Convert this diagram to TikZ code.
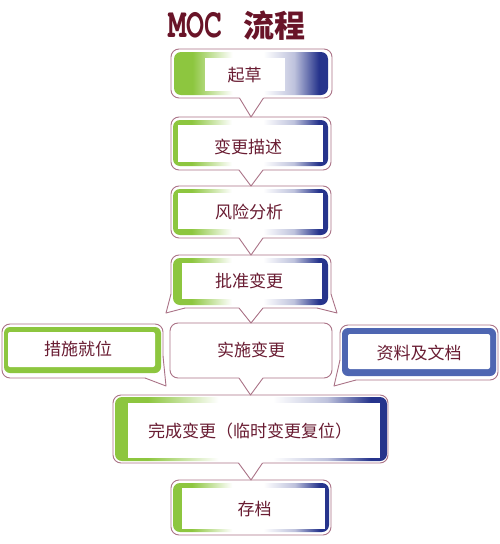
\documentclass[tikz,border=0pt]{standalone}
\usepackage{fontspec}
\usepackage{graphicx}
\newfontfamily\cjk{Noto Sans CJK SC}
\newfontfamily\cursorfont{TeX Gyre Cursor}
\usetikzlibrary{calc}
\definecolor{mgreen}{RGB}{141,198,63}
\definecolor{mblue}{RGB}{38,52,140}
\definecolor{rblue}{RGB}{78,102,178}
\definecolor{txtc}{RGB}{105,28,50}
\definecolor{titlec}{RGB}{105,20,40}
\definecolor{outc}{RGB}{170,115,135}
\definecolor{shadc}{RGB}{200,150,165}
\definecolor{shadd}{RGB}{160,95,115}
\pgfdeclarehorizontalshading{gwb}{100bp}{color(0bp)=(mgreen); color(25bp)=(mgreen); color(31bp)=(mgreen); color(44bp)=(white); color(54bp)=(white); color(64bp)=(mblue!30!white); color(72bp)=(mblue); color(100bp)=(mblue)}
\pgfdeclarelayer{shadowlayer}
\pgfsetlayers{shadowlayer,main}
\newcommand\mocshad[1]{%
  \begin{pgfonlayer}{shadowlayer}
    \fill[shadc, opacity=0.45, rounded corners=8pt] ([shift={(4.5pt,-4.5pt)}]#1.north west) rectangle ([shift={(4.5pt,-4.5pt)}]#1.south east);
    \fill[shadd, opacity=0.55, rounded corners=8pt] ([shift={(2pt,-2pt)}]#1.north west) rectangle ([shift={(2pt,-2pt)}]#1.south east);
  \end{pgfonlayer}}
\newcommand\mocptr[2]{%
  \begin{pgfonlayer}{shadowlayer}
    \fill[shadc, opacity=0.45] ([shift={(-7.5pt,-4.5pt)}]#1.south) -- ([shift={(4.5pt,-4.5pt)}]#2.north) -- ([shift={(16.5pt,-4.5pt)}]#1.south) -- cycle;
    \fill[shadd, opacity=0.55] ([shift={(-10pt,-2pt)}]#1.south) -- ([shift={(2pt,-2pt)}]#2.north) -- ([shift={(14pt,-2pt)}]#1.south) -- cycle;
  \end{pgfonlayer}
  \fill[white] ([shift={(-12pt,2pt)}]#1.south) -- ([xshift=-12pt]#1.south) -- (#2.north) -- ([xshift=12pt]#1.south) -- ([shift={(12pt,2pt)}]#1.south) -- cycle;
  \draw[outline] ([xshift=-12pt]#1.south) -- (#2.north) -- ([xshift=12pt]#1.south);}
% tail: #1 start point, #2 tip, #3 end point, #4 inner point
\newcommand\moctail[4]{%
  \begin{pgfonlayer}{shadowlayer}
    \fill[shadd, opacity=0.55] ([shift={(2pt,-2pt)}]#1) -- ([shift={(2pt,-2pt)}]#2) -- ([shift={(2pt,-2pt)}]#3) -- ([shift={(2pt,-2pt)}]#4) -- cycle;
    \fill[shadc, opacity=0.45] ([shift={(4pt,-4pt)}]#1) -- ([shift={(4pt,-4pt)}]#2) -- ([shift={(4pt,-4pt)}]#3) -- ([shift={(4pt,-4pt)}]#4) -- cycle;
  \end{pgfonlayer}
  \fill[white] (#1) -- (#2) -- (#3) -- (#4) -- cycle;
  \draw[outline] (#1) -- (#2) -- (#3);}
\begin{document}
\begin{tikzpicture}[x=1pt,y=-1pt,
  outline/.style={draw=outc, line width=0.9pt, line join=round},
  outer/.style={outline, fill=white, rounded corners=8pt, inner sep=0pt, outer sep=0pt},
  grad/.style={shade, shading=gwb, rounded corners=7pt, inner sep=0pt, outer sep=0pt},
  wbox/.style={fill=white, inner sep=0pt, outer sep=0pt},
  lbl/.style={font=\cjk\fontsize{17pt}{20pt}\selectfont, text=txtc, inner sep=0pt},
]
\useasboundingbox (0,0) rectangle (500,544);
\fill[white] (0,0) rectangle (500,544);

% title
\node[inner sep=0pt, text=titlec] (title1) at (195.5,25) {\scalebox{1}[1.4]{\cursorfont\bfseries\fontsize{30pt}{30pt}\selectfont MOC}};
\node[inner sep=0pt, text=titlec, font=\cjk\bfseries\fontsize{31pt}{34pt}\selectfont] (title2) at (274.5,26) {流程};

% outer bubbles
\node[outer, minimum width=161pt, minimum height=49pt] (o1) at (251.5,73.5) {};
\node[outer, minimum width=160pt, minimum height=53pt] (o2) at (251,143.5) {};
\node[outer, minimum width=160pt, minimum height=52pt] (o3) at (251,212) {};
\node[outer, minimum width=160pt, minimum height=53pt] (o4) at (251,281.5) {};
\node[outer, minimum width=162pt, minimum height=55pt] (o5) at (251,350.5) {};
\node[outer, minimum width=275pt, minimum height=68pt] (o6) at (250.5,429) {};
\node[outer, minimum width=160pt, minimum height=55pt] (o7) at (251,507.5) {};
\node[outer, minimum width=161pt, minimum height=54pt] (oL) at (82.5,351) {};
\node[outer, minimum width=158pt, minimum height=55pt] (oR) at (419,352.5) {};
\foreach \n in {o1,o2,o3,o4,o5,o6,o7,oL,oR} {\mocshad{\n}}

% pointers
\mocptr{o1}{o2}
\mocptr{o2}{o3}
\mocptr{o3}{o4}
\mocptr{o4}{o5}
\mocptr{o5}{o6}
\mocptr{o6}{o7}

% tails
\coordinate (tipL) at (166,386);
\coordinate (tipR) at (334,386);
\coordinate (tip4L) at (166,313);
\coordinate (tip4R) at (337,313);
\moctail{$(oL.south east)+(0,-22)$}{tipL}{$(oL.south east)+(-18,0)$}{$(oL.south east)+(-12,-12)$}
\moctail{$(oR.south west)+(0,-20)$}{tipR}{$(oR.south west)+(16,0)$}{$(oR.south west)+(12,-12)$}
\moctail{$(o4.south west)+(0,-14)$}{tip4L}{$(o4.south west)+(14,0)$}{$(o4.south west)+(10,-10)$}
\moctail{$(o4.south east)+(0,-14)$}{tip4R}{$(o4.south east)+(-14,0)$}{$(o4.south east)+(-10,-10)$}

% gradient boxes
\node[grad, minimum width=154pt, minimum height=43pt] (g1) at (251,73.5) {};
\node[grad, minimum width=155pt, minimum height=46pt] (g2) at (250.5,143) {};
\node[grad, minimum width=155pt, minimum height=46pt] (g3) at (250.5,212) {};
\node[grad, minimum width=155pt, minimum height=47pt] (g4) at (250.5,281.5) {};
\node[grad, minimum width=272pt, minimum height=64pt] (g6) at (251,429) {};
\node[grad, minimum width=156pt, minimum height=49pt] (g7) at (251,507.5) {};
\node[fill=mgreen, rounded corners=6pt, inner sep=0pt, minimum width=157pt, minimum height=46pt] (gL) at (82.5,350) {};
\node[fill=rblue, rounded corners=6pt, inner sep=0pt, minimum width=154pt, minimum height=48pt] (gR) at (419,352) {};

% white boxes
\node[wbox, minimum width=80pt, minimum height=33pt] (w1) at (245,74.5) {};
\node[wbox, minimum width=145pt, minimum height=37pt] (w2) at (250.5,143.5) {};
\node[wbox, minimum width=145pt, minimum height=36pt] (w3) at (250.5,211) {};
\node[wbox, minimum width=140pt, minimum height=36pt] (w4) at (252,281) {};
\node[wbox, minimum width=252pt, minimum height=55pt] (w6) at (254,430.5) {};
\node[wbox, minimum width=143pt, minimum height=41pt] (w7) at (253.5,508.5) {};
\node[wbox, rounded corners=2pt, minimum width=147pt, minimum height=35pt] (wL) at (81.5,349.5) {};
\node[wbox, rounded corners=2pt, minimum width=142pt, minimum height=35pt] (wR) at (419,351.5) {};

% labels
\node[lbl] (t1) at (244.5,75) {起草};
\node[lbl] (t2) at (248,146.5) {变更描述};
\node[lbl] (t3) at (249,212.5) {风险分析};
\node[lbl] (t4) at (249,281) {批准变更};
\node[lbl] (t5) at (251,350) {实施变更};
\node[lbl] (t6) at (250,431.5) {完成变更（临时变更复位）};
\node[lbl] (t7) at (254.5,509) {存档};
\node[lbl] (tL) at (78,349) {措施就位};
\node[lbl] (tR) at (419,352.5) {资料及文档};
\end{tikzpicture}
\end{document}
